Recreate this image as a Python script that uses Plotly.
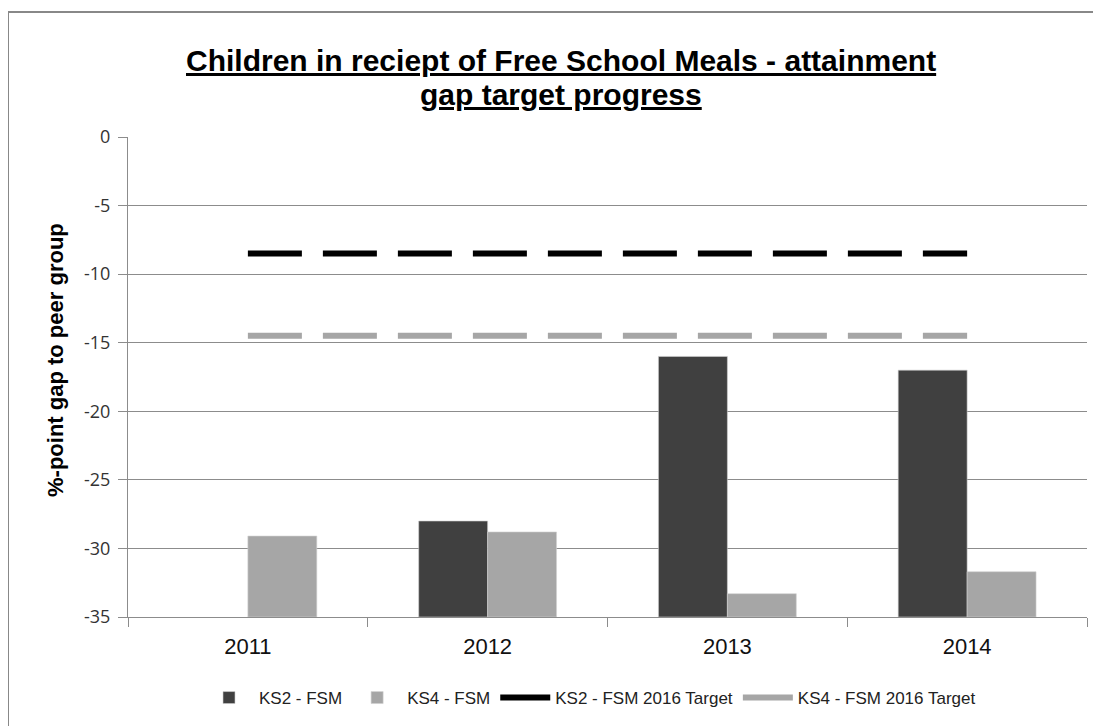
import plotly.graph_objects as go

# ---- data ----
years = ["2011", "2012", "2013", "2014"]
ks2_fsm = [None, -28.0, -16.0, -17.0]
ks4_fsm = [-29.1, -28.8, -33.3, -31.7]
ks2_target = [-8.5, -8.5, -8.5, -8.5]
ks4_target = [-14.5, -14.5, -14.5, -14.5]
y_ticks = [0, -5, -10, -15, -20, -25, -30, -35]
y_ticklabels = ["0", "-5", "-10", "-15", "-20", "-25", "-30", "-35"]
AXIS_MIN = -35
AXIS_MAX = 0

title_lines = ["Children in reciept of Free School Meals - attainment", "gap target progress"]
y_title = "%-point gap to peer group"

# ---- geometry (reference pixel coords; page body adds an 8px offset) ----
OFF = 8
W, H = 1101 - OFF, 726 - OFF
PL, PR, PT, PB = 128, 1087, 137, 617


def px_x(px):
    return (px - PL) / (PR - PL)


def px_y(py):
    return (PB - py) / (PB - PT)


def cx(px):
    return (px - OFF) / W


def cy(py):
    return 1 - (py - OFF) / H


DARK = "#404040"
LIGHT = "#A6A6A6"
GRID = "#8c8c8c"
FONT = "Liberation Sans, Arial, sans-serif"

fig = go.Figure()

fig.add_trace(go.Bar(
    name="KS2 - FSM", x=years,
    y=[None if v is None else v - AXIS_MIN for v in ks2_fsm],
    base=AXIS_MIN, marker=dict(color=DARK, line=dict(color="#d0d0d0", width=0.6)),
))
fig.add_trace(go.Bar(
    name="KS4 - FSM", x=years,
    y=[v - AXIS_MIN for v in ks4_fsm],
    base=AXIS_MIN, marker=dict(color=LIGHT, line=dict(color="#d0d0d0", width=0.6)),
))
fig.add_trace(go.Scatter(
    name="KS2 - FSM 2016 Target", x=years, y=ks2_target, mode="lines",
    line=dict(color="#000000", width=6, dash="54px,21px"),
))
fig.add_trace(go.Scatter(
    name="KS4 - FSM 2016 Target", x=years, y=ks4_target, mode="lines",
    line=dict(color=LIGHT, width=6, dash="54px,21px"),
))

title_annots = [
    dict(text="<b><u>" + line + "</u></b>", xref="paper", yref="paper",
         x=px_x(561), y=px_y(yc), xanchor="center", yanchor="middle", showarrow=False,
         font=dict(family=FONT, size=30, color="#000000"))
    for line, yc in zip(title_lines, [60, 94])
]

fig.update_layout(
    width=W, height=H,
    margin=dict(l=PL - OFF, r=W - (PR - OFF), t=PT - OFF, b=H - (PB - OFF), autoexpand=False),
    paper_bgcolor="white", plot_bgcolor="white",
    barmode="group", bargap=0.425, bargroupgap=0,
    font=dict(family=FONT, color="#000000"),
    showlegend=True,
    legend=dict(
        orientation="h", x=cx(590), xanchor="center", xref="container",
        y=cy(698), yanchor="middle", yref="container",
        font=dict(family=FONT, size=17, color="#222222"),
        itemwidth=50, traceorder="normal",
    ),
    xaxis=dict(
        type="category", tickson="boundaries", ticks="outside", ticklen=9,
        tickcolor=GRID, showline=True, linecolor=GRID, linewidth=1,
        showgrid=False, tickfont=dict(family=FONT, size=22, color="#111111"),
        ticklabelstandoff=10, fixedrange=True,
    ),
    yaxis=dict(
        range=[AXIS_MIN, AXIS_MAX], tickvals=y_ticks, ticktext=y_ticklabels,
        ticks="outside", ticklen=9,
        tickcolor=GRID, showline=True, linecolor=GRID, linewidth=1,
        showgrid=True, gridcolor=GRID, gridwidth=1, zeroline=False,
        tickfont=dict(family="Open Sans, Liberation Sans, sans-serif", size=18, color="#333333"),
        ticklabelstandoff=4,
    ),
    annotations=title_annots + [dict(
        text="<b>" + y_title + "</b>", textangle=-90,
        xref="paper", yref="paper", x=px_x(55), y=px_y(360),
        xanchor="center", yanchor="middle", showarrow=False,
        font=dict(family=FONT, size=22, color="#000000"),
    )],
    shapes=[
        dict(type="line", xref="paper", yref="paper",
             x0=px_x(8), x1=px_x(8), y0=px_y(11), y1=px_y(740),
             line=dict(color="#888888", width=2)),
        dict(type="line", xref="paper", yref="paper",
             x0=px_x(7), x1=px_x(1110), y0=px_y(12), y1=px_y(12),
             line=dict(color="#888888", width=2)),
    ],
)

fig.write_html("out.html")
